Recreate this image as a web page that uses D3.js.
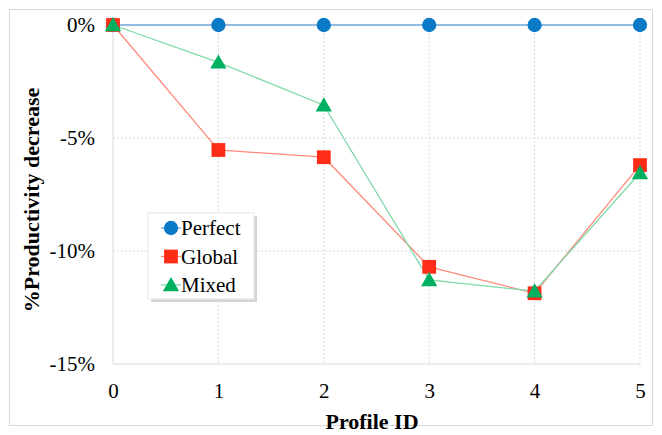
<!DOCTYPE html>
<html><head><meta charset="utf-8">
<script src="https://cdn.jsdelivr.net/npm/d3@7/dist/d3.min.js"></script>
<style>body{margin:0;background:#fff}svg{display:block}</style>
</head><body><div id="chart"></div>
<script>
const profiles = [0, 1, 2, 3, 4, 5];
const perfect = [0, 0, 0, 0, 0, 0];
const global = [0, -5.53, -5.85, -10.7, -11.87, -6.2];
const mixed = [0, -1.65, -3.55, -11.28, -11.78, -6.55];
const yTicks = [0, -5, -10, -15];
const seriesNames = ["Perfect", "Global", "Mixed"];

const W = 662, H = 435;
const svg = d3.select("#chart").append("svg").attr("width", W).attr("height", H);
svg.append("rect").attr("x", 9.5).attr("y", 9.5).attr("width", W - 19).attr("height", H - 19)
  .attr("fill", "#fff").attr("stroke", "#d9d9d9");

const x = d3.scaleLinear().domain([0, 5]).range([113, 640]);
const y = d3.scaleLinear().domain([-15, 0]).range([364, 25]);
const font = "Liberation Serif";

const g = svg.append("g");
g.selectAll(".vg").data(profiles.slice(1)).enter().append("line")
  .attr("x1", d => x(d)).attr("x2", d => x(d)).attr("y1", y(0)).attr("y2", y(-15))
  .attr("stroke", "#d9d9d9").attr("stroke-dasharray", "2,2");
g.selectAll(".hg").data(yTicks.filter(t => t !== -15)).enter().append("line")
  .attr("x1", x(0)).attr("x2", x(5)).attr("y1", d => y(d)).attr("y2", d => y(d))
  .attr("stroke", "#d9d9d9").attr("stroke-dasharray", "2,2");
g.append("line").attr("x1", x(0)).attr("x2", x(5)).attr("y1", y(-15)).attr("y2", y(-15)).attr("stroke", "#d9d9d9");
g.append("line").attr("x1", x(0)).attr("x2", x(0)).attr("y1", y(0)).attr("y2", y(-15)).attr("stroke", "#d9d9d9");

const xAxis = svg.append("g").attr("transform", `translate(0,${y(-15)})`)
  .call(d3.axisBottom(x).tickValues(profiles).tickSize(0).tickPadding(19).tickFormat(d3.format("d")));
xAxis.select(".domain").remove();
xAxis.attr("font-family", font);
xAxis.selectAll("text").style("font-family", font).attr("font-size", 21).attr("fill", "#000");

const yAxis = svg.append("g").attr("transform", `translate(${x(0)},0)`)
  .call(d3.axisLeft(y).tickValues(yTicks).tickSize(0).tickPadding(18).tickFormat(d => d + "%"));
yAxis.select(".domain").remove();
yAxis.attr("font-family", font);
yAxis.selectAll("text").style("font-family", font).attr("font-size", 21).attr("fill", "#000");

svg.append("text").attr("x", 372).attr("y", 429).attr("text-anchor", "middle")
  .style("font-family", font).attr("font-weight", "bold").attr("font-size", 22).text("Profile ID");
svg.append("text").attr("transform", "translate(39,200) rotate(-90)").attr("text-anchor", "middle")
  .style("font-family", font).attr("font-weight", "bold").attr("font-size", 22).text("%Productivity decrease");

const series = [
  {name: seriesNames[0], values: perfect, line: "#6fa8dc", fill: "#0a7ac6", sym: d3.symbolCircle, size: 160},
  {name: seriesNames[1], values: global, line: "#ff8a7a", fill: "#ff2d17", sym: d3.symbolSquare, size: 190},
  {name: seriesNames[2], values: mixed, line: "#7fd9a8", fill: "#00b060", sym: d3.symbolTriangle, size: 115}
];
const lineGen = d3.line().x((d, i) => x(profiles[i])).y(d => y(d));
series.forEach(s => {
  svg.append("path").attr("d", lineGen(s.values)).attr("fill", "none").attr("stroke", s.line).attr("stroke-width", 1.3);
});
series.forEach(s => {
  svg.selectAll(null).data(s.values).enter().append("path")
    .attr("d", d3.symbol().type(s.sym).size(s.size))
    .attr("transform", (d, i) => `translate(${x(profiles[i])},${y(d) + (s.sym === d3.symbolTriangle ? 1.5 : 0)})`)
    .attr("fill", s.fill);
});

const lg = svg.append("g");
lg.append("rect").attr("x", 151).attr("y", 216).attr("width", 106).attr("height", 86).attr("fill", "#bbb").attr("opacity", 0.6);
lg.append("rect").attr("x", 148).attr("y", 213).attr("width", 106).attr("height", 86).attr("fill", "#fff").attr("stroke", "#e6e6e6");
series.forEach((s, i) => {
  const cy = 228 + i * 28.5;
  lg.append("line").attr("x1", 161).attr("x2", 181).attr("y1", cy).attr("y2", cy).attr("stroke", s.line).attr("stroke-width", 1.3);
  lg.append("path").attr("d", d3.symbol().type(s.sym).size(s.size)).attr("transform", `translate(171,${cy + (s.sym === d3.symbolTriangle ? 1.5 : 0)})`).attr("fill", s.fill);
  lg.append("text").attr("x", 181).attr("y", cy + 7).style("font-family", font).attr("font-size", 21).text(s.name);
});
</script></body></html>
